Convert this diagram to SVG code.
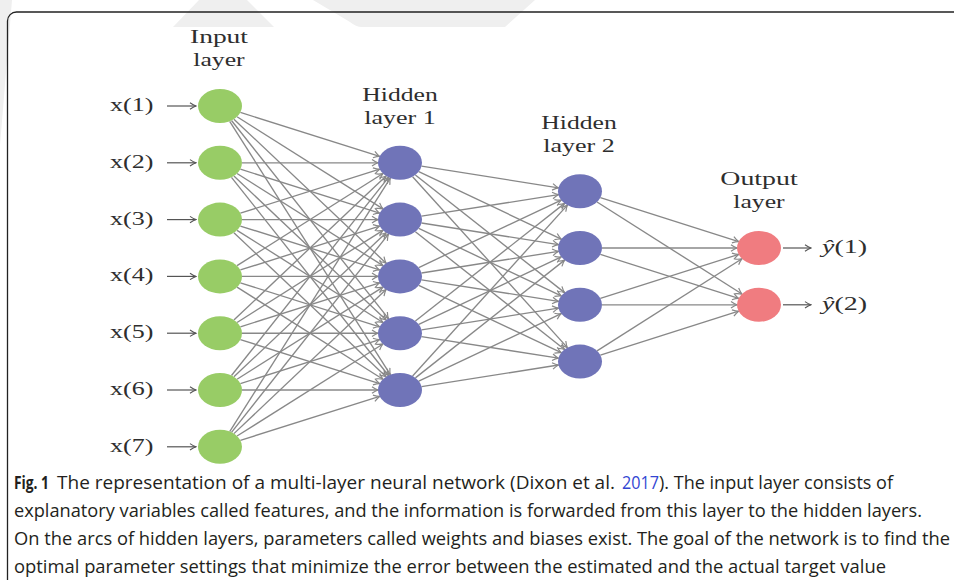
<svg xmlns="http://www.w3.org/2000/svg" width="954" height="580" viewBox="0 0 954 580">
  <style>
    .wm { fill: #efefef; }
    .frame { fill: none; stroke: #222; stroke-width: 1.3; }
    .edge { stroke: #888; stroke-width: 1.35; fill: none; marker-end: url(#tip); }
    .stub { stroke: #555; stroke-width: 1.2; fill: none; marker-end: url(#tipDark); }
    .lbl { font-family: "Liberation Serif", "DejaVu Serif", serif; font-size: 19px; fill: #2e2e2e; }
    .in { fill: #98cc66; }
    .hid { fill: #7074b8; }
    .out { fill: #f07c80; }
    .cap { font-family: "Open Sans", "Noto Sans", sans-serif; font-size: 17.5px; fill: #231f20; }
    .capb { font-family: "Open Sans", "Noto Sans", sans-serif; font-size: 18.5px; font-weight: bold; fill: #231f20; }
    .ref { fill: #3346d3; }
  </style>
  <defs>
    <marker id="tip" markerUnits="userSpaceOnUse" viewBox="-8 -5 9 10" markerWidth="9" markerHeight="10" refX="0" refY="0" orient="auto">
      <path d="M-6,-3.3 Q-2.5,-0.8 0,0 Q-2.5,0.8 -6,3.3" fill="none" stroke="#888" stroke-width="1.2"/>
    </marker>
    <marker id="tipDark" markerUnits="userSpaceOnUse" viewBox="-8 -5 9 10" markerWidth="9" markerHeight="10" refX="0" refY="0" orient="auto">
      <path d="M-6,-3.2 Q-2.5,-0.8 0,0 Q-2.5,0.8 -6,3.2" fill="none" stroke="#555" stroke-width="1.1"/>
    </marker>
  </defs>

  <rect width="954" height="580" fill="#fff"/>

  <!-- faint background shapes at the top -->
  <g id="backdrop">
    <polygon class="wm" points="0,0 12,0 0,145"/>
    <polygon class="wm" points="199,0 247,0 274,27 173,27"/>
    <path class="wm" d="M313,0 H535 L505,27 H362 Q356,27 350,22 Z"/>
  </g>

  <!-- figure frame -->
  <path class="frame" d="M7.5,580 V21 A9,9 0 0 1 16.5,12 H954"/>

  <!-- layer titles -->
  <g id="titles" class="lbl">
    <text x="190" y="43" textLength="58" lengthAdjust="spacingAndGlyphs">Input</text>
    <text x="193.3" y="66" textLength="51.4" lengthAdjust="spacingAndGlyphs">layer</text>
    <text x="362.3" y="101" textLength="75.4" lengthAdjust="spacingAndGlyphs">Hidden</text>
    <text x="364.3" y="124" textLength="71.4" lengthAdjust="spacingAndGlyphs">layer 1</text>
    <text x="541.3" y="129" textLength="75.4" lengthAdjust="spacingAndGlyphs">Hidden</text>
    <text x="543.3" y="152" textLength="71.4" lengthAdjust="spacingAndGlyphs">layer 2</text>
    <text x="720.3" y="185" textLength="77.4" lengthAdjust="spacingAndGlyphs">Output</text>
    <text x="733.3" y="208" textLength="51.4" lengthAdjust="spacingAndGlyphs">layer</text>
  </g>

  <!-- connectors -->
  <g id="connectors">
    <!-- inputs in and outputs out -->
    <line class="stub" x1="167" y1="106" x2="196" y2="106"/>
    <line class="stub" x1="167" y1="162.8" x2="196" y2="162.8"/>
    <line class="stub" x1="167" y1="219.6" x2="196" y2="219.6"/>
    <line class="stub" x1="167" y1="276.4" x2="196" y2="276.4"/>
    <line class="stub" x1="167" y1="333.2" x2="196" y2="333.2"/>
    <line class="stub" x1="167" y1="390" x2="196" y2="390"/>
    <line class="stub" x1="167" y1="446.8" x2="196" y2="446.8"/>
    <line class="stub" x1="783" y1="248" x2="811" y2="248"/>
    <line class="stub" x1="783" y1="304.8" x2="811" y2="304.8"/>

    <!-- input layer to hidden layer 1 -->
    <line class="edge" x1="240.37" y1="112.43" x2="379.63" y2="156.37"/>
    <line class="edge" x1="237.04" y1="116.75" x2="382.96" y2="208.85"/>
    <line class="edge" x1="233.91" y1="119.17" x2="386.09" y2="263.23"/>
    <line class="edge" x1="231.49" y1="120.5" x2="388.51" y2="318.7"/>
    <line class="edge" x1="229.68" y1="121.27" x2="390.32" y2="374.73"/>

    <line class="edge" x1="242" y1="162.8" x2="378" y2="162.8"/>
    <line class="edge" x1="240.37" y1="169.23" x2="379.63" y2="213.17"/>
    <line class="edge" x1="237.04" y1="173.55" x2="382.96" y2="265.65"/>
    <line class="edge" x1="233.91" y1="175.97" x2="386.09" y2="320.03"/>
    <line class="edge" x1="231.49" y1="177.3" x2="388.51" y2="375.5"/>

    <line class="edge" x1="240.37" y1="213.17" x2="379.63" y2="169.23"/>
    <line class="edge" x1="242" y1="219.6" x2="378" y2="219.6"/>
    <line class="edge" x1="240.37" y1="226.03" x2="379.63" y2="269.97"/>
    <line class="edge" x1="237.04" y1="230.35" x2="382.96" y2="322.45"/>
    <line class="edge" x1="233.91" y1="232.77" x2="386.09" y2="376.83"/>

    <line class="edge" x1="237.04" y1="265.65" x2="382.96" y2="173.55"/>
    <line class="edge" x1="240.37" y1="269.97" x2="379.63" y2="226.03"/>
    <line class="edge" x1="242" y1="276.4" x2="378" y2="276.4"/>
    <line class="edge" x1="240.37" y1="282.83" x2="379.63" y2="326.77"/>
    <line class="edge" x1="237.04" y1="287.15" x2="382.96" y2="379.25"/>

    <line class="edge" x1="233.91" y1="320.03" x2="386.09" y2="175.97"/>
    <line class="edge" x1="237.04" y1="322.45" x2="382.96" y2="230.35"/>
    <line class="edge" x1="240.37" y1="326.77" x2="379.63" y2="282.83"/>
    <line class="edge" x1="242" y1="333.2" x2="378" y2="333.2"/>
    <line class="edge" x1="240.37" y1="339.63" x2="379.63" y2="383.57"/>

    <line class="edge" x1="231.49" y1="375.5" x2="388.51" y2="177.3"/>
    <line class="edge" x1="233.91" y1="376.83" x2="386.09" y2="232.77"/>
    <line class="edge" x1="237.04" y1="379.25" x2="382.96" y2="287.15"/>
    <line class="edge" x1="240.37" y1="383.57" x2="379.63" y2="339.63"/>
    <line class="edge" x1="242" y1="390" x2="378" y2="390"/>

    <line class="edge" x1="229.68" y1="431.53" x2="390.32" y2="178.07"/>
    <line class="edge" x1="231.49" y1="432.3" x2="388.51" y2="234.1"/>
    <line class="edge" x1="233.91" y1="433.63" x2="386.09" y2="289.57"/>
    <line class="edge" x1="237.04" y1="436.05" x2="382.96" y2="343.95"/>
    <line class="edge" x1="240.37" y1="440.37" x2="379.63" y2="396.43"/>

    <!-- hidden layer 1 to hidden layer 2 -->
    <line class="edge" x1="421.55" y1="166.2" x2="558.45" y2="187.8"/>
    <line class="edge" x1="418.76" y1="171.68" x2="561.24" y2="239.12"/>
    <line class="edge" x1="415.4" y1="174.95" x2="564.6" y2="292.65"/>
    <line class="edge" x1="412.61" y1="176.73" x2="567.39" y2="347.67"/>

    <line class="edge" x1="421.55" y1="216.2" x2="558.45" y2="194.6"/>
    <line class="edge" x1="421.55" y1="223" x2="558.45" y2="244.6"/>
    <line class="edge" x1="418.76" y1="228.48" x2="561.24" y2="295.92"/>
    <line class="edge" x1="415.4" y1="231.75" x2="564.6" y2="349.45"/>

    <line class="edge" x1="418.76" y1="267.52" x2="561.24" y2="200.08"/>
    <line class="edge" x1="421.55" y1="273" x2="558.45" y2="251.4"/>
    <line class="edge" x1="421.55" y1="279.8" x2="558.45" y2="301.4"/>
    <line class="edge" x1="418.76" y1="285.28" x2="561.24" y2="352.72"/>

    <line class="edge" x1="415.4" y1="321.05" x2="564.6" y2="203.35"/>
    <line class="edge" x1="418.76" y1="324.32" x2="561.24" y2="256.88"/>
    <line class="edge" x1="421.55" y1="329.8" x2="558.45" y2="308.2"/>
    <line class="edge" x1="421.55" y1="336.6" x2="558.45" y2="358.2"/>

    <line class="edge" x1="412.61" y1="376.07" x2="567.39" y2="205.13"/>
    <line class="edge" x1="415.4" y1="377.85" x2="564.6" y2="260.15"/>
    <line class="edge" x1="418.76" y1="381.12" x2="561.24" y2="313.68"/>
    <line class="edge" x1="421.55" y1="386.6" x2="558.45" y2="365"/>

    <!-- hidden layer 2 to output layer -->
    <line class="edge" x1="600.37" y1="197.63" x2="738.63" y2="241.57"/>
    <line class="edge" x1="597.04" y1="201.95" x2="741.96" y2="294.05"/>
    <line class="edge" x1="602" y1="248" x2="737" y2="248"/>
    <line class="edge" x1="600.37" y1="254.43" x2="738.63" y2="298.37"/>
    <line class="edge" x1="600.37" y1="298.37" x2="738.63" y2="254.43"/>
    <line class="edge" x1="602" y1="304.8" x2="737" y2="304.8"/>
    <line class="edge" x1="597.04" y1="350.85" x2="741.96" y2="258.75"/>
    <line class="edge" x1="600.37" y1="355.17" x2="738.63" y2="311.23"/>
  </g>

  <!-- input layer -->
  <g id="x1"><ellipse class="in" cx="220" cy="106" rx="22" ry="17"/><text class="lbl" x="110" y="111" textLength="43.3" lengthAdjust="spacingAndGlyphs">x(1)</text></g>
  <g id="x2"><ellipse class="in" cx="220" cy="162.8" rx="22" ry="17"/><text class="lbl" x="110" y="167.8" textLength="43.3" lengthAdjust="spacingAndGlyphs">x(2)</text></g>
  <g id="x3"><ellipse class="in" cx="220" cy="219.6" rx="22" ry="17"/><text class="lbl" x="110" y="224.6" textLength="43.3" lengthAdjust="spacingAndGlyphs">x(3)</text></g>
  <g id="x4"><ellipse class="in" cx="220" cy="276.4" rx="22" ry="17"/><text class="lbl" x="110" y="281.4" textLength="43.3" lengthAdjust="spacingAndGlyphs">x(4)</text></g>
  <g id="x5"><ellipse class="in" cx="220" cy="333.2" rx="22" ry="17"/><text class="lbl" x="110" y="338.2" textLength="43.3" lengthAdjust="spacingAndGlyphs">x(5)</text></g>
  <g id="x6"><ellipse class="in" cx="220" cy="390" rx="22" ry="17"/><text class="lbl" x="110" y="395" textLength="43.3" lengthAdjust="spacingAndGlyphs">x(6)</text></g>
  <g id="x7"><ellipse class="in" cx="220" cy="446.8" rx="22" ry="17"/><text class="lbl" x="110" y="451.8" textLength="43.3" lengthAdjust="spacingAndGlyphs">x(7)</text></g>

  <!-- hidden layer 1 -->
  <g id="h1-1"><ellipse class="hid" cx="400" cy="162.8" rx="22" ry="17"/></g>
  <g id="h1-2"><ellipse class="hid" cx="400" cy="219.6" rx="22" ry="17"/></g>
  <g id="h1-3"><ellipse class="hid" cx="400" cy="276.4" rx="22" ry="17"/></g>
  <g id="h1-4"><ellipse class="hid" cx="400" cy="333.2" rx="22" ry="17"/></g>
  <g id="h1-5"><ellipse class="hid" cx="400" cy="390" rx="22" ry="17"/></g>

  <!-- hidden layer 2 -->
  <g id="h2-1"><ellipse class="hid" cx="580" cy="191.2" rx="22" ry="17"/></g>
  <g id="h2-2"><ellipse class="hid" cx="580" cy="248" rx="22" ry="17"/></g>
  <g id="h2-3"><ellipse class="hid" cx="580" cy="304.8" rx="22" ry="17"/></g>
  <g id="h2-4"><ellipse class="hid" cx="580" cy="361.6" rx="22" ry="17"/></g>

  <!-- output layer -->
  <g id="y1"><ellipse class="out" cx="759" cy="248" rx="22" ry="17"/><text class="lbl" x="822" y="253" textLength="45" lengthAdjust="spacingAndGlyphs"><tspan font-style="italic">ŷ</tspan>(1)</text></g>
  <g id="y2"><ellipse class="out" cx="759" cy="304.8" rx="22" ry="17"/><text class="lbl" x="822" y="309.8" textLength="45" lengthAdjust="spacingAndGlyphs"><tspan font-style="italic">ŷ</tspan>(2)</text></g>

  <!-- caption -->
  <g id="caption">
    <text class="capb" x="14" y="489" textLength="35" lengthAdjust="spacingAndGlyphs">Fig. 1</text>
    <text class="cap" x="57" y="489" textLength="558" lengthAdjust="spacingAndGlyphs">The representation of a multi-layer neural network (Dixon et al.</text>
    <text class="cap ref" x="622" y="489" textLength="37" lengthAdjust="spacingAndGlyphs">2017</text>
    <text class="cap" x="659" y="489" textLength="234" lengthAdjust="spacingAndGlyphs">). The input layer consists of</text>
    <text class="cap" x="14" y="517" textLength="908" lengthAdjust="spacingAndGlyphs">explanatory variables called features, and the information is forwarded from this layer to the hidden layers.</text>
    <text class="cap" x="14" y="545" textLength="936" lengthAdjust="spacingAndGlyphs">On the arcs of hidden layers, parameters called weights and biases exist. The goal of the network is to find the</text>
    <text class="cap" x="14" y="573" textLength="872" lengthAdjust="spacingAndGlyphs">optimal parameter settings that minimize the error between the estimated and the actual target value</text>
  </g>
</svg>
